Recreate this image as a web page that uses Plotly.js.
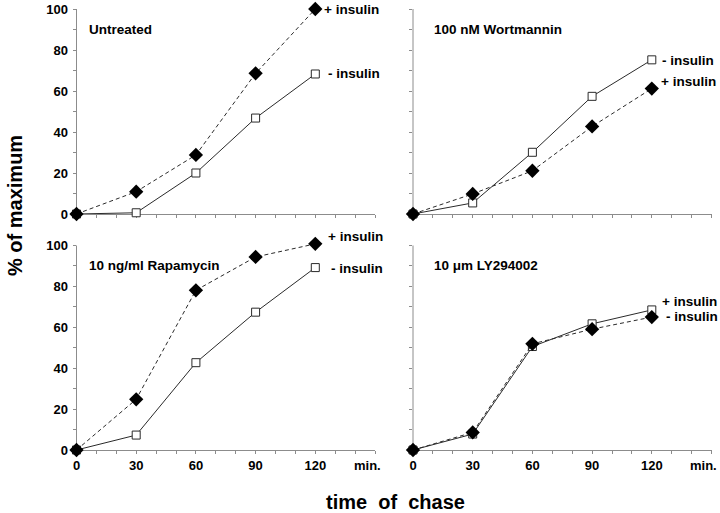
<!DOCTYPE html>
<html>
<head>
<meta charset="utf-8">
<script src="https://cdn.plot.ly/plotly-3.0.1.min.js"></script>
<style>html,body{margin:0;padding:0;background:#fff;}#chart{width:720px;height:513px;}</style>
</head>
<body>
<div id="chart"></div>
<script>
// time points (min)
const timePoints = [0, 30, 60, 90, 120];
const xTickLabels = ['0', '30', '60', '90', '120'];
const yTickVals = [0, 20, 40, 60, 80, 100];

// panel names
const panelNames = ['Untreated', '100 nM Wortmannin', '10 ng/ml Rapamycin', '10 \u03bcm LY294002'];

// open squares (solid line)
const untreatedSquare = [0, 0.6, 20, 46.8, 68.3];
const wortmanninSquare = [0, 5.4, 30.1, 57.4, 75.2];
const rapamycinSquare = [0, 7.3, 42.7, 67.4, 89.2];
const lySquare = [0, 7.8, 50.6, 61.7, 68.5];

// filled diamonds (dashed line)
const untreatedDiamond = [0, 10.9, 28.8, 68.6, 100];
const wortmanninDiamond = [0, 9.8, 21.1, 42.7, 61.2];
const rapamycinDiamond = [0, 24.8, 78.1, 94.4, 100.8];
const lyDiamond = [0, 8.6, 51.9, 59.1, 65];

// series label texts per panel: [squareLabel, diamondLabel]
const seriesLabels = [
  ['- insulin', '+ insulin'],
  ['- insulin', '+ insulin'],
  ['- insulin', '+ insulin'],
  ['+ insulin', '- insulin']
];
// label anchor positions (data coords) [x, y] for square label then diamond label
const squareLabelPos = [[125.5, 68.3], [124, 75.1], [126.8, 88.6], [124, 72.5]];
const diamondLabelPos = [[123.5, 100], [123.5, 64.4], [125.5, 104.3], [126, 65.2]];

const squares = [untreatedSquare, wortmanninSquare, rapamycinSquare, lySquare];
const diamonds = [untreatedDiamond, wortmanninDiamond, rapamycinDiamond, lyDiamond];

const W = 720, H = 513;
const axisColor = '#8c8c8c';
const lineColor = '#2a2a2a';
const fontFam = 'Liberation Sans, Arial, sans-serif';

const xDomains = [[76.5 / W, 375 / W], [413 / W, 711.5 / W]];
// pixel positions of y=0 and y=100 per row
const yZeroPx = [214, 450];
const yHundredPx = [9, 245.5];
const yTop = 102;

const traces = [];
const layout = {
  width: W, height: H,
  margin: {l: 0, r: 0, t: 0, b: 0},
  paper_bgcolor: '#fff', plot_bgcolor: 'rgba(0,0,0,0)',
  showlegend: false,
  annotations: []
};

function yPaper(row, v) {
  const px = yZeroPx[row] + (yHundredPx[row] - yZeroPx[row]) * v / 100;
  return 1 - px / H;
}

for (let p = 0; p < 4; p++) {
  const col = p % 2, row = Math.floor(p / 2);
  const xa = 'x' + (p === 0 ? '' : p + 1);
  const ya = 'y' + (p === 0 ? '' : p + 1);
  const xk = 'xaxis' + (p === 0 ? '' : p + 1);
  const yk = 'yaxis' + (p === 0 ? '' : p + 1);

  traces.push({
    x: timePoints, y: squares[p], xaxis: xa, yaxis: ya,
    type: 'scatter', mode: 'lines+markers', cliponaxis: false,
    line: {color: lineColor, width: 1},
    marker: {symbol: 'square', size: 8, color: '#fff', line: {color: lineColor, width: 1}}
  });
  traces.push({
    x: timePoints, y: diamonds[p], xaxis: xa, yaxis: ya,
    type: 'scatter', mode: 'lines+markers', cliponaxis: false,
    line: {color: lineColor, width: 1, dash: '4px,3px'},
    marker: {symbol: 'diamond', size: 11, color: '#000', line: {width: 0}}
  });

  layout[xk] = {
    domain: xDomains[col], anchor: ya, range: [0, 150],
    showgrid: false, zeroline: false, showline: true,
    linecolor: axisColor, linewidth: 1, layer: 'below traces',
    tickmode: 'array', tickvals: timePoints, ticktext: xTickLabels,
    showticklabels: row === 1,
    ticks: 'outside', ticklen: 3, tickcolor: axisColor, tickwidth: 1,
    minor: {dtick: 10, tick0: 0, ticks: 'outside', ticklen: 3, tickcolor: axisColor, tickwidth: 1, showgrid: false},
    tickfont: {family: fontFam, size: 13, color: '#000', weight: 'bold'},
    fixedrange: true
  };
  layout[yk] = {
    domain: [yPaper(row, 0), yPaper(row, yTop)], anchor: xa, range: [0, yTop],
    showgrid: false, zeroline: false, showline: false,
    layer: 'below traces',
    tickmode: 'array', tickvals: yTickVals,
    showticklabels: col === 0,
    ticks: 'outside', ticklen: 3, tickcolor: axisColor, tickwidth: 1,
    minor: {dtick: 10, tick0: 0, ticks: 'outside', ticklen: 3, tickcolor: axisColor, tickwidth: 1, showgrid: false},
    tickfont: {family: fontFam, size: 13, color: '#000', weight: 'bold'},
    ticklabelstandoff: 2,
    fixedrange: true
  };

  // y axis line from 0 to 100 only
  layout.shapes = layout.shapes || [];
  layout.shapes.push({
    type: 'line', xref: xa + ' domain', yref: ya, x0: 0, x1: 0, y0: 0, y1: 100,
    line: {color: axisColor, width: 1}, layer: 'below'
  });

  // panel name
  layout.annotations.push({
    xref: xa, yref: 'paper', x: col === 0 ? 5.5 : 9.5, y: yPaper(row, 90.2),
    text: panelNames[p], showarrow: false, xanchor: 'left', yanchor: 'middle',
    font: {family: fontFam, size: 13.5, color: '#000', weight: 'bold'}
  });
  // series labels
  layout.annotations.push({
    xref: xa, yref: 'paper', x: squareLabelPos[p][0], y: yPaper(row, squareLabelPos[p][1]),
    text: seriesLabels[p][0], showarrow: false, xanchor: 'left', yanchor: 'middle',
    font: {family: fontFam, size: 13.5, color: '#000', weight: 'bold'}
  });
  layout.annotations.push({
    xref: xa, yref: 'paper', x: diamondLabelPos[p][0], y: yPaper(row, diamondLabelPos[p][1]),
    text: seriesLabels[p][1], showarrow: false, xanchor: 'left', yanchor: 'middle',
    font: {family: fontFam, size: 13.5, color: '#000', weight: 'bold'}
  });
  // "min." label on bottom panels
  if (row === 1) {
    layout.annotations.push({
      xref: xa, yref: 'paper', x: 146, y: 1 - 465 / H,
      text: 'min.', showarrow: false, xanchor: 'center', yanchor: 'middle',
      font: {family: fontFam, size: 13, color: '#000', weight: 'bold'}
    });
  }
}

// global axis titles
layout.annotations.push({
  xref: 'paper', yref: 'paper', x: 15 / W, y: 1 - 206 / H,
  text: '% of maximum', showarrow: false, textangle: -90,
  xanchor: 'center', yanchor: 'middle',
  font: {family: fontFam, size: 20, color: '#000', weight: 'bold'}
});
layout.annotations.push({
  xref: 'paper', yref: 'paper', x: 395 / W, y: 1 - 502 / H,
  text: 'time\u00a0 of\u00a0 chase', showarrow: false,
  xanchor: 'center', yanchor: 'middle',
  font: {family: fontFam, size: 20, color: '#000', weight: 'bold'}
});

Plotly.newPlot('chart', traces, layout, {staticPlot: true, displayModeBar: false});
</script>
</body>
</html>
